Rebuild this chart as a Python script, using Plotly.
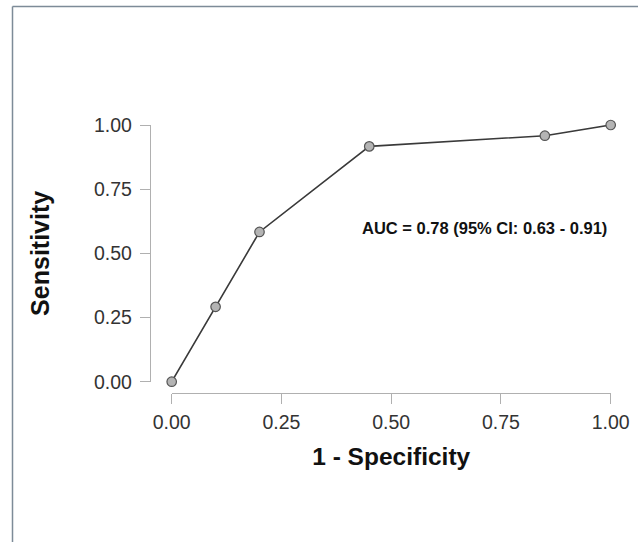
import plotly.graph_objects as go

W, H = 638, 542

fpr = [0.0, 0.10, 0.20, 0.45, 0.85, 1.00]
tpr = [0.0, 0.2917, 0.5833, 0.9167, 0.9583, 1.00]
tick_vals = [0.0, 0.25, 0.5, 0.75, 1.0]
tick_text = ["0.00", "0.25", "0.50", "0.75", "1.00"]
auc_label = "AUC = 0.78 (95% CI: 0.63 - 0.91)"
auc_pos = (0.712, 0.60)

# pixel layout
px_x0, px_x1 = 171.7, 610.7
px_y0, px_y1 = 381.7, 125.0
yaxis_px = 150.0
xaxis_px = 393.0

fig = go.Figure()
fig.add_trace(go.Scatter(
    x=fpr, y=tpr, mode="lines+markers",
    line=dict(color="#3a3a3a", width=1.6),
    marker=dict(size=9.5, color="#b4b4b4", line=dict(color="#555555", width=1.2)),
    cliponaxis=False, showlegend=False, hoverinfo="skip",
))

fig.add_annotation(
    x=auc_pos[0], y=auc_pos[1], xref="x", yref="y", text="<b>" + auc_label + "</b>",
    showarrow=False, font=dict(family="Liberation Sans, Arial", size=16.5, color="#111111"),
)

axis_common = dict(
    showgrid=False, zeroline=False, showline=True, linecolor="#b0b0b0", linewidth=1.3,
    ticks="outside", ticklen=10, tickwidth=1.3, tickcolor="#b0b0b0",
    tickfont=dict(family="Liberation Sans, Arial", size=19.5, color="#333333"),
    tickvals=tick_vals, ticktext=tick_text, range=[0, 1], fixedrange=True,
    automargin=False,
)

fig.update_layout(
    template="none",
    width=W, height=H,
    margin=dict(l=0, r=0, t=0, b=0, pad=0, autoexpand=False),
    paper_bgcolor="white", plot_bgcolor="white",
    xaxis=dict(
        **axis_common,
        domain=[px_x0 / W, px_x1 / W],
        anchor="free", position=1 - xaxis_px / H,
        ticklabelstandoff=1,
        title=dict(text="<b>1 - Specificity</b>", standoff=16,
                   font=dict(family="Liberation Sans, Arial", size=24.5, color="#111111")),
    ),
    yaxis=dict(
        **axis_common,
        domain=[1 - px_y0 / H, 1 - px_y1 / H],
        anchor="free", position=yaxis_px / W,
        ticklabelstandoff=4,
        title=dict(text="<b>Sensitivity</b>", standoff=36,
                   font=dict(family="Liberation Sans, Arial", size=25, color="#111111")),
    ),
    shapes=[
        dict(type="line", xref="paper", yref="paper", x0=12.5 / W, x1=1, y0=1 - 6.5 / H, y1=1 - 6.5 / H,
             line=dict(color="#7d8b98", width=1.5)),
        dict(type="line", xref="paper", yref="paper", x0=12.5 / W, x1=12.5 / W, y0=0, y1=1 - 6.5 / H,
             line=dict(color="#7d8b98", width=1.5)),
    ],
)

fig.write_html("out.html", config={"displayModeBar": False, "responsive": False})
